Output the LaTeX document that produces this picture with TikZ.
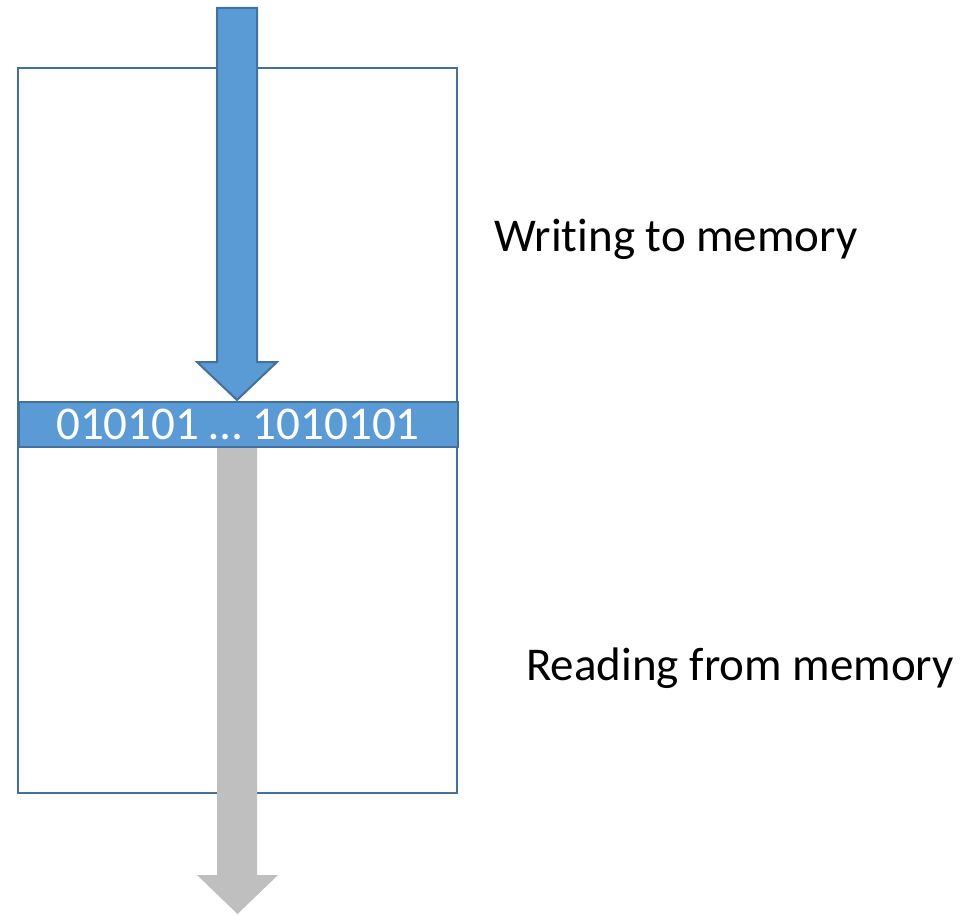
\documentclass[tikz,border=0pt]{standalone}
\usepackage{fontspec}
\setmainfont[Ligatures=NoCommon]{Carlito}
\definecolor{blueFill}{HTML}{5B9BD5}
\definecolor{blueLine}{HTML}{41719C}
\definecolor{grayFill}{HTML}{BFBFBF}
\begin{document}
\begin{tikzpicture}[x=1pt,y=-1pt,
  memframe/.style={draw=blueLine,line width=2pt},
  bluearrow/.style={fill=blueFill,draw=blueLine,line width=2pt,line join=miter},
  grayarrow/.style={fill=grayFill},
  label/.style={font=\fontsize{47}{56}\selectfont,anchor=west,inner sep=0pt}]
\useasboundingbox (0,0) rectangle (967,915);
% memory box
\draw[memframe] (17.5,68) rectangle (456.5,793);
% gray reading arrow
\fill[grayarrow] (217,446) -- (257,446) -- (257,875) -- (278,875) -- (237.5,914) -- (197,875) -- (217,875) -- cycle;
% blue writing arrow
\draw[bluearrow] (217,8) -- (257,8) -- (257,362) -- (277,362) -- (237,400) -- (197,362) -- (217,362) -- cycle;
% band
\node[draw=blueLine,fill=blueFill,line width=2pt,minimum width=439pt,minimum height=45pt,inner sep=0pt,anchor=north west,
  text=white,font=\fontsize{47}{56}\selectfont] (band) at (17.5,401) {010101 … 1010101};
\node[label] (write) at (494,239) {Writing to memory};
\node[label] (read) at (526,668) {Reading from memory};
\end{tikzpicture}
\end{document}
